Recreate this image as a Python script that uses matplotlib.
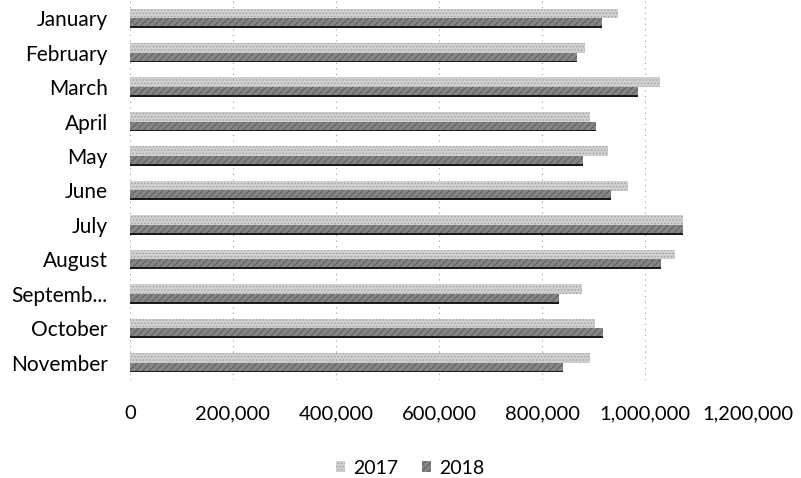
import matplotlib
matplotlib.use("Agg")
import matplotlib.pyplot as plt
import numpy as np
from matplotlib.ticker import FuncFormatter

months = ["January", "February", "March", "April", "May", "June", "July",
          "August", "Septemb...", "October", "November"]
sales_2017 = [948000, 884000, 1029000, 893000, 928000, 967000, 1074000,
              1058000, 878000, 903000, 893000]
sales_2018 = [917000, 868000, 986000, 905000, 880000, 934000, 1074000,
              1031000, 833000, 919000, 841000]
xticks = [0, 200000, 400000, 600000, 800000, 1000000, 1200000]

plt.rcParams['font.family'] = ['Lato', 'DejaVu Sans']
plt.rcParams['hatch.linewidth'] = 0.6

fig = plt.figure(figsize=(8.01, 4.78), dpi=100)
ax = fig.add_axes([130/801, (478-380)/478, 618/801, 379/478])

y = np.arange(len(months))
h = 0.28
ax.barh(y - h/2, sales_2017, height=h, color='#d0d0d0', hatch='.....',
        edgecolor='#a0a0a0', linewidth=0, label='2017', zorder=3)
ax.barh(y + h/2, sales_2018, height=h, color='#858585', hatch='/////',
        edgecolor='#555555', linewidth=0, label='2018', zorder=3)
# dark bottom edge on the 2018 bars
ax.barh(y + h - 0.025, sales_2018, height=0.05, color='#1a1a1a',
        linewidth=0, zorder=4)

ax.set_ylim(len(months) - 0.5, -0.5)
ax.set_xlim(0, 1200000)
ax.set_yticks(y)
ax.set_yticklabels(months, fontsize=15, color='#000000')
ax.set_xticks(xticks)
ax.xaxis.set_major_formatter(FuncFormatter(lambda v, p: f"{int(v):,}"))
ax.tick_params(axis='x', labelsize=14.5, pad=18, length=0, colors='#000000')
ax.tick_params(axis='y', length=0, pad=16)
for s in ax.spines.values():
    s.set_visible(False)
ax.grid(axis='x', color='#999999', linestyle=(0, (1, 4)), linewidth=0.8, zorder=0)
ax.set_axisbelow(True)

leg = fig.legend(loc='center', bbox_to_anchor=(410/801, 1 - 468/478), ncol=2,
                 frameon=False, fontsize=14, handlelength=0.5, handleheight=0.5,
                 handletextpad=0.4, columnspacing=1.2)

fig.savefig("out.png", dpi=100)
